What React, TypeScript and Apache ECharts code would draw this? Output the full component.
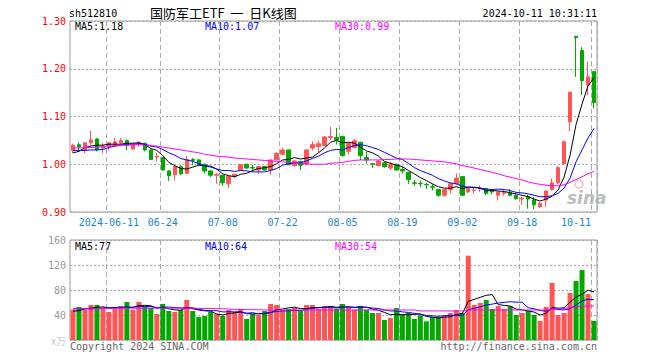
import React, { useEffect, useRef } from 'react';
import * as echarts from 'echarts';

const dates = [
  '2024-05-31', '2024-06-03', '2024-06-04', '2024-06-05', '2024-06-06', '2024-06-07',
  '2024-06-11', '2024-06-12', '2024-06-13', '2024-06-14',
  '2024-06-17', '2024-06-18', '2024-06-19', '2024-06-20', '2024-06-21',
  '2024-06-24', '2024-06-25', '2024-06-26', '2024-06-27', '2024-06-28',
  '2024-07-01', '2024-07-02', '2024-07-03', '2024-07-04', '2024-07-05',
  '2024-07-08', '2024-07-09', '2024-07-10', '2024-07-11', '2024-07-12',
  '2024-07-15', '2024-07-16', '2024-07-17', '2024-07-18', '2024-07-19',
  '2024-07-22', '2024-07-23', '2024-07-24', '2024-07-25', '2024-07-26',
  '2024-07-29', '2024-07-30', '2024-07-31', '2024-08-01', '2024-08-02',
  '2024-08-05', '2024-08-06', '2024-08-07', '2024-08-08', '2024-08-09',
  '2024-08-12', '2024-08-13', '2024-08-14', '2024-08-15', '2024-08-16',
  '2024-08-19', '2024-08-20', '2024-08-21', '2024-08-22', '2024-08-23',
  '2024-08-26', '2024-08-27', '2024-08-28', '2024-08-29', '2024-08-30',
  '2024-09-02', '2024-09-03', '2024-09-04', '2024-09-05', '2024-09-06',
  '2024-09-09', '2024-09-10', '2024-09-11', '2024-09-12', '2024-09-13',
  '2024-09-18', '2024-09-19', '2024-09-20',
  '2024-09-23', '2024-09-24', '2024-09-25', '2024-09-26', '2024-09-27',
  '2024-09-30',
  '2024-10-08', '2024-10-09', '2024-10-10', '2024-10-11',
];

const labelDates = ['2024-06-11', '2024-06-24', '2024-07-08', '2024-07-22', '2024-08-05', '2024-08-19', '2024-09-02', '2024-09-18', '2024-10-11'];

const opens = [
  1.029, 1.041, 1.030, 1.045, 1.053, 1.034, 1.038, 1.038, 1.045, 1.050,
  1.032, 1.043, 1.044, 1.030, 1.015, 1.014, 0.986, 0.978, 0.995, 0.981,
  1.010, 1.009, 1.000, 0.986, 0.977, 0.977, 0.959, 0.975, 0.988, 1.000,
  0.993, 0.988, 0.995, 0.988, 1.009, 1.021, 1.030, 0.997, 1.006, 1.000,
  1.034, 1.037, 1.039, 1.056, 1.056, 1.058, 1.027, 1.035, 1.046, 1.014,
  1.001, 0.997, 1.003, 0.992, 1.000, 0.989, 0.983, 0.961, 0.960, 0.958,
  0.953, 0.947, 0.935, 0.947, 0.959, 0.974, 0.942, 0.945, 0.948, 0.949,
  0.943, 0.935, 0.939, 0.942, 0.935, 0.927, 0.932, 0.925, 0.911, 0.925,
  0.947, 0.961, 1.001, 1.089, 1.268, 1.238, 1.166, 1.194,
];
const closes = [
  1.040, 1.036, 1.045, 1.051, 1.030, 1.038, 1.045, 1.047, 1.050, 1.039,
  1.041, 1.046, 1.030, 1.010, 1.017, 0.988, 0.976, 0.995, 0.980, 1.010,
  1.008, 0.999, 0.986, 0.977, 0.979, 0.961, 0.975, 0.979, 0.999, 0.992,
  0.992, 0.995, 0.988, 1.009, 1.023, 1.030, 0.999, 1.007, 0.998, 1.030,
  1.041, 1.043, 1.057, 1.058, 1.051, 1.018, 1.044, 1.049, 1.018, 1.009,
  1.000, 1.007, 0.995, 0.999, 0.988, 0.986, 0.968, 0.960, 0.959, 0.957,
  0.952, 0.935, 0.947, 0.959, 0.971, 0.935, 0.949, 0.946, 0.950, 0.939,
  0.942, 0.942, 0.941, 0.935, 0.928, 0.929, 0.927, 0.915, 0.918, 0.944,
  0.961, 0.993, 1.047, 1.151, 1.265, 1.175, 1.183, 1.129,
];
const lows = [
  1.023, 1.027, 1.023, 1.040, 1.027, 1.023, 1.030, 1.036, 1.043, 1.029,
  1.030, 1.037, 1.027, 1.009, 1.006, 0.987, 0.965, 0.966, 0.977, 0.979,
  0.998, 0.997, 0.981, 0.973, 0.959, 0.955, 0.950, 0.971, 0.987, 0.991,
  0.985, 0.980, 0.987, 0.978, 1.008, 1.020, 0.998, 0.995, 0.987, 0.999,
  1.029, 1.025, 1.038, 1.051, 1.041, 1.016, 1.020, 1.034, 1.009, 1.002,
  0.992, 0.996, 0.993, 0.988, 0.987, 0.981, 0.959, 0.955, 0.952, 0.948,
  0.945, 0.932, 0.932, 0.939, 0.958, 0.934, 0.940, 0.939, 0.942, 0.935,
  0.937, 0.924, 0.934, 0.933, 0.926, 0.915, 0.907, 0.906, 0.909, 0.911,
  0.945, 0.959, 0.999, 1.069, 1.183, 1.145, 1.145, 1.117,
];
const highs = [
  1.043, 1.046, 1.046, 1.070, 1.055, 1.044, 1.047, 1.055, 1.055, 1.052,
  1.043, 1.048, 1.045, 1.031, 1.023, 1.015, 0.987, 0.997, 0.998, 1.017,
  1.013, 1.011, 1.001, 0.987, 0.981, 0.978, 0.976, 0.980, 1.000, 1.001,
  0.999, 0.996, 0.996, 1.010, 1.025, 1.035, 1.031, 1.008, 1.007, 1.032,
  1.048, 1.049, 1.059, 1.078, 1.076, 1.060, 1.045, 1.053, 1.047, 1.026,
  1.002, 1.008, 1.004, 1.005, 1.001, 0.995, 0.984, 0.967, 0.966, 0.961,
  0.958, 0.948, 0.948, 0.960, 0.981, 0.975, 0.950, 0.952, 0.956, 0.950,
  0.946, 0.943, 0.945, 0.948, 0.937, 0.932, 0.936, 0.932, 0.921, 0.945,
  0.970, 0.996, 1.050, 1.152, 1.268, 1.245, 1.215, 1.195,
];

const ma5 = [
  1.024, 1.027, 1.035, 1.038, 1.040, 1.040, 1.042, 1.042, 1.042, 1.044,
  1.044, 1.045, 1.041, 1.033, 1.029, 1.018, 1.004, 0.997, 0.991, 0.990,
  0.994, 0.998, 0.997, 0.996, 0.990, 0.980, 0.976, 0.974, 0.979, 0.981,
  0.987, 0.991, 0.993, 0.995, 1.001, 1.009, 1.010, 1.014, 1.011, 1.013,
  1.015, 1.024, 1.034, 1.046, 1.050, 1.045, 1.046, 1.044, 1.036, 1.028,
  1.024, 1.017, 1.006, 1.002, 0.998, 0.995, 0.987, 0.980, 0.972, 0.966,
  0.959, 0.953, 0.950, 0.950, 0.953, 0.949, 0.952, 0.952, 0.950, 0.944,
  0.945, 0.944, 0.943, 0.940, 0.938, 0.935, 0.932, 0.927, 0.923, 0.927,
  0.933, 0.946, 0.973, 1.019, 1.083, 1.126, 1.164, 1.181,
];
const ma10 = [
  1.029, 1.029, 1.029, 1.030, 1.030, 1.031, 1.035, 1.038, 1.040, 1.042,
  1.042, 1.043, 1.042, 1.038, 1.036, 1.031, 1.024, 1.019, 1.012, 1.009,
  1.006, 1.001, 0.997, 0.994, 0.990, 0.987, 0.987, 0.985, 0.987, 0.986,
  0.984, 0.984, 0.984, 0.987, 0.991, 0.998, 1.001, 1.003, 1.003, 1.007,
  1.012, 1.017, 1.024, 1.029, 1.031, 1.030, 1.035, 1.039, 1.041, 1.039,
  1.035, 1.031, 1.025, 1.019, 1.013, 1.010, 1.002, 0.993, 0.987, 0.982,
  0.977, 0.970, 0.965, 0.961, 0.959, 0.954, 0.952, 0.951, 0.950, 0.948,
  0.947, 0.948, 0.947, 0.945, 0.941, 0.940, 0.938, 0.935, 0.932, 0.932,
  0.934, 0.939, 0.950, 0.971, 1.005, 1.030, 1.055, 1.075,
];
const ma30 = [
  1.034, 1.034, 1.035, 1.035, 1.036, 1.037, 1.038, 1.039, 1.040, 1.040,
  1.041, 1.041, 1.040, 1.039, 1.038, 1.036, 1.034, 1.032, 1.030, 1.028,
  1.026, 1.024, 1.021, 1.019, 1.017, 1.016, 1.015, 1.013, 1.012, 1.011,
  1.010, 1.009, 1.008, 1.007, 1.006, 1.005, 1.004, 1.003, 1.002, 1.001,
  1.000, 1.000, 1.000, 1.002, 1.003, 1.004, 1.006, 1.008, 1.009, 1.009,
  1.009, 1.009, 1.010, 1.010, 1.011, 1.011, 1.011, 1.010, 1.009, 1.008,
  1.007, 1.006, 1.005, 1.003, 1.001, 0.997, 0.995, 0.992, 0.989, 0.986,
  0.983, 0.980, 0.976, 0.973, 0.970, 0.967, 0.963, 0.960, 0.958, 0.956,
  0.955, 0.955, 0.957, 0.962, 0.968, 0.974, 0.980, 0.985,
];

const volumes = [
  48.5, 52.8, 48.5, 56, 56, 51.7, 44.8, 51.7, 54.4, 60.8,
  48.5, 60.8, 52.8, 51.2, 41.6, 57.6, 46.4, 44.8, 48, 64,
  46.4, 36.8, 38.4, 44.8, 41.6, 38.4, 48, 44.8, 49.6, 33.6,
  41.6, 40, 46.4, 57.6, 56, 48, 49.6, 51.2, 46.4, 56,
  56, 50, 54, 52.3, 50, 57.6, 52.3, 48.5, 54.4, 48.5,
  43.2, 43.2, 32, 35.2, 51.2, 41.6, 43.2, 33.6, 39.5, 29.9,
  36.8, 36.8, 39.5, 43.2, 48, 43.2, 134.9, 56, 59.2, 64,
  49.6, 54.4, 49.6, 53.9, 40, 43.2, 46.4, 40, 30.4, 52.8,
  91.2, 40, 43.2, 75.2, 94.4, 112, 73.6, 30.4,
];
const volMa5 = [
  46, 47, 50, 51, 52.4, 53, 51.4, 52, 51.7, 52.7,
  52, 55.2, 55.5, 54.8, 51, 52.8, 49.9, 48.3, 47.7, 52.2,
  49.9, 48, 46.7, 46.1, 41.6, 40, 42.2, 43.5, 44.5, 42.9,
  43.5, 41.9, 42.2, 43.8, 48.3, 49.6, 51.5, 52.5, 50.2, 50.2,
  51.8, 51.9, 52.5, 53.7, 52.5, 52.8, 53.2, 52.1, 52.6, 52.3,
  49.4, 47.6, 44.3, 40.4, 41, 40.6, 40.6, 41, 41.8, 37.6,
  36.6, 35.3, 36.5, 37.2, 40.9, 42.1, 61.8, 65.1, 68.3, 71.5,
  72.7, 56.6, 55.4, 54.3, 49.5, 48.2, 46.6, 44.7, 40, 42.6,
  52.2, 50.9, 51.5, 60.5, 68.8, 73, 79.7, 77.1,
];
const volMa10 = [
  50, 50, 50, 50, 50.5, 51, 51.5, 52, 52.5, 52.5,
  52.5, 53.3, 53.8, 53.3, 51.8, 52.4, 52.6, 51.9, 51.3, 51.6,
  51.4, 49, 47.5, 46.9, 46.9, 45, 45.1, 45.1, 45.3, 42.2,
  41.8, 42.1, 42.9, 44.2, 45.6, 46.6, 46.7, 47.4, 47, 49.3,
  50.7, 51.7, 52.5, 52, 51.4, 52.3, 52.6, 52.3, 53.1, 52.4,
  51.1, 50.4, 48.2, 46.5, 46.6, 45, 44.1, 42.6, 41.1, 39.3,
  38.6, 38, 38.7, 39.5, 39.2, 39.4, 48.5, 50.8, 52.8, 56.2,
  57.4, 59.2, 60.2, 61.3, 60.5, 60.5, 51.6, 50, 47.2, 46,
  50.2, 48.8, 48.1, 50.2, 55.7, 62.6, 65.3, 64.3,
];
const volMa30 = [
  50, 50, 50, 50, 50.5, 50.5, 50.5, 50.5, 51, 51,
  51, 51, 51, 51, 51, 51, 51, 51, 51, 51,
  51, 50.5, 50.5, 50.5, 50, 50, 49.5, 49, 49, 48.5,
  48.5, 48.5, 48, 48, 48, 48, 48, 48, 48, 48,
  48, 48, 48, 48, 48, 48, 48, 48, 48, 48,
  48, 48, 48, 48, 48, 48, 48, 48, 46.5, 46.5,
  46.5, 46.5, 46.5, 46.5, 46.5, 46.5, 47.5, 48, 48, 48,
  48, 48, 48, 48, 48, 48, 48, 48, 48, 48,
  49.5, 50, 50.5, 52, 53, 54, 54.5, 54.5,
];

const priceAxis = { min: 0.9, max: 1.3, step: 0.1 };
const volAxis = { min: 0, max: 160, step: 40 };

const headerCode = 'sh512810';
const headerTitle = '国防军工ETF  一  日K线图';
const headerTime = '2024-10-11 10:31:11';
const priceLegend = ['MA5:1.18', 'MA10:1.07', 'MA30:0.99'];
const volLegend = ['MA5:77', 'MA10:64', 'MA30:54'];
const footerLeft = 'Copyright 2024 SINA.COM';
const footerRight = 'http://finance.sina.com.cn';

const RED = '#ff5555';
const GREEN = '#00a800';
const MONO = 'DejaVu Sans Mono';
const LINE_COLORS = ['#000000', '#0000ff', '#ff00ff'];

export default function App() {
  const ref = useRef<HTMLDivElement>(null);
  useEffect(() => {
    if (!ref.current) return;
    const chart = echarts.init(ref.current, undefined, { renderer: 'svg' });
    const labelIdx = new Set(labelDates.map((d) => dates.indexOf(d)));
    const lastDate = dates[dates.length - 1];
    const isLabel = (i: number) => labelIdx.has(i);
    const splitX = { show: true, interval: isLabel, lineStyle: { color: '#aaaaaa', type: [5, 3], width: 1 } };
    const candles = dates.map((_, i) => [opens[i], closes[i], lows[i], highs[i]]);
    const volData = volumes.map((v, i) => ({ value: v, itemStyle: { color: closes[i] >= opens[i] ? RED : GREEN } }));
    const maLine = (data: number[], c: string, xi: number) => ({
      type: 'line', xAxisIndex: xi, yAxisIndex: xi, data, symbol: 'none', silent: true,
      lineStyle: { color: c, width: 1 }, z: 5,
    });
    const txt = (text: string, x: number, y: number, fill: string, align = 'left', font = `10px ${MONO}`) => ({
      type: 'text', x, y, silent: true,
      style: { text, fill, font, textAlign: align, textVerticalAlign: 'middle' },
    });
    const option: any = {
      animation: false,
      backgroundColor: '#ffffff',
      grid: [
        { left: 70, top: 21, width: 527, height: 191, show: true, borderColor: '#999999', borderWidth: 1 },
        { left: 70, top: 240, width: 527, height: 100, show: true, borderColor: '#999999', borderWidth: 1 },
      ],
      xAxis: [
        {
          type: 'category', gridIndex: 0, data: dates, boundaryGap: true,
          axisLine: { show: false }, axisTick: { show: false },
          axisLabel: {
            interval: isLabel, color: '#1a86d0', fontFamily: MONO, fontSize: 10, margin: 5,
            formatter: (v: string) => (v === labelDates[0] ? v : v === lastDate ? `{r|${v.slice(5)}}` : v.slice(5)),
            rich: { r: { color: '#1a86d0', fontFamily: MONO, fontSize: 10, padding: [0, 36, 0, 0] } },
          },
          splitLine: splitX,
        },
        {
          type: 'category', gridIndex: 1, data: dates, boundaryGap: true,
          axisLine: { show: false }, axisTick: { show: false }, axisLabel: { show: false },
          splitLine: splitX,
        },
      ],
      yAxis: [
        {
          type: 'value', gridIndex: 0, min: priceAxis.min, max: priceAxis.max, interval: priceAxis.step,
          axisLine: { show: false }, axisTick: { show: false },
          axisLabel: { color: '#ff0000', fontFamily: MONO, fontSize: 10, margin: 4, formatter: (v: number) => v.toFixed(2) },
          splitLine: { show: true, lineStyle: { color: '#aaaaaa', type: [2, 2], width: 1 } },
        },
        {
          type: 'value', gridIndex: 1, min: volAxis.min, max: volAxis.max, interval: volAxis.step,
          axisLine: { show: false }, axisTick: { show: false },
          axisLabel: {
            color: '#999999', fontFamily: MONO, fontSize: 10, margin: 4,
            formatter: (v: number) => (v === 0 ? '{u|x万}' : String(v)),
            rich: { u: { color: '#c8c8c8', fontSize: 10, fontFamily: 'Noto Sans CJK SC' } },
          },
          splitLine: { show: true, lineStyle: { color: '#aaaaaa', type: [2, 2], width: 1 } },
        },
      ],
      series: [
        {
          type: 'candlestick', xAxisIndex: 0, yAxisIndex: 0, data: candles, barWidth: 4,
          itemStyle: { color: RED, color0: GREEN, borderColor: RED, borderColor0: GREEN, borderWidth: 1 },
        },
        maLine(ma5, LINE_COLORS[0], 0),
        maLine(ma10, LINE_COLORS[1], 0),
        maLine(ma30, LINE_COLORS[2], 0),
        { type: 'bar', xAxisIndex: 1, yAxisIndex: 1, data: volData, barWidth: 5 },
        maLine(volMa5, LINE_COLORS[0], 1),
        maLine(volMa10, LINE_COLORS[1], 1),
        maLine(volMa30, LINE_COLORS[2], 1),
      ],
      graphic: [
        txt(headerCode, 69, 13, '#000000'),
        txt(headerTitle, 150, 12.5, '#000000', 'left', `13px "Noto Sans CJK SC"`),
        txt(headerTime, 597, 13, '#000000', 'right'),
        txt(priceLegend[0], 75, 26, LINE_COLORS[0]),
        txt(priceLegend[1], 205, 26, LINE_COLORS[1]),
        txt(priceLegend[2], 335, 26, LINE_COLORS[2]),
        txt(volLegend[0], 75, 246, LINE_COLORS[0]),
        txt(volLegend[1], 205, 246, LINE_COLORS[1]),
        txt(volLegend[2], 335, 246, LINE_COLORS[2]),
        txt(footerLeft, 70, 346, '#666666'),
        txt(footerRight, 597, 346, '#666666', 'right'),
        {
          type: 'text', x: 567, y: 198, silent: true, z: 10,
          style: { text: 'sina', fill: 'rgba(170,170,170,0.8)', font: 'italic bold 17px "DejaVu Sans"', textAlign: 'left', textVerticalAlign: 'middle' },
        },
        { type: 'circle', shape: { cx: 579, cy: 184, r: 4 }, silent: true, style: { fill: 'none', stroke: 'rgba(240,150,150,0.6)', lineWidth: 1.5 } },
      ],
    };
    chart.setOption(option);
    return () => chart.dispose();
  }, []);
  return <div ref={ref} style={{ width: 660, height: 360, margin: -8 }} />;
}
